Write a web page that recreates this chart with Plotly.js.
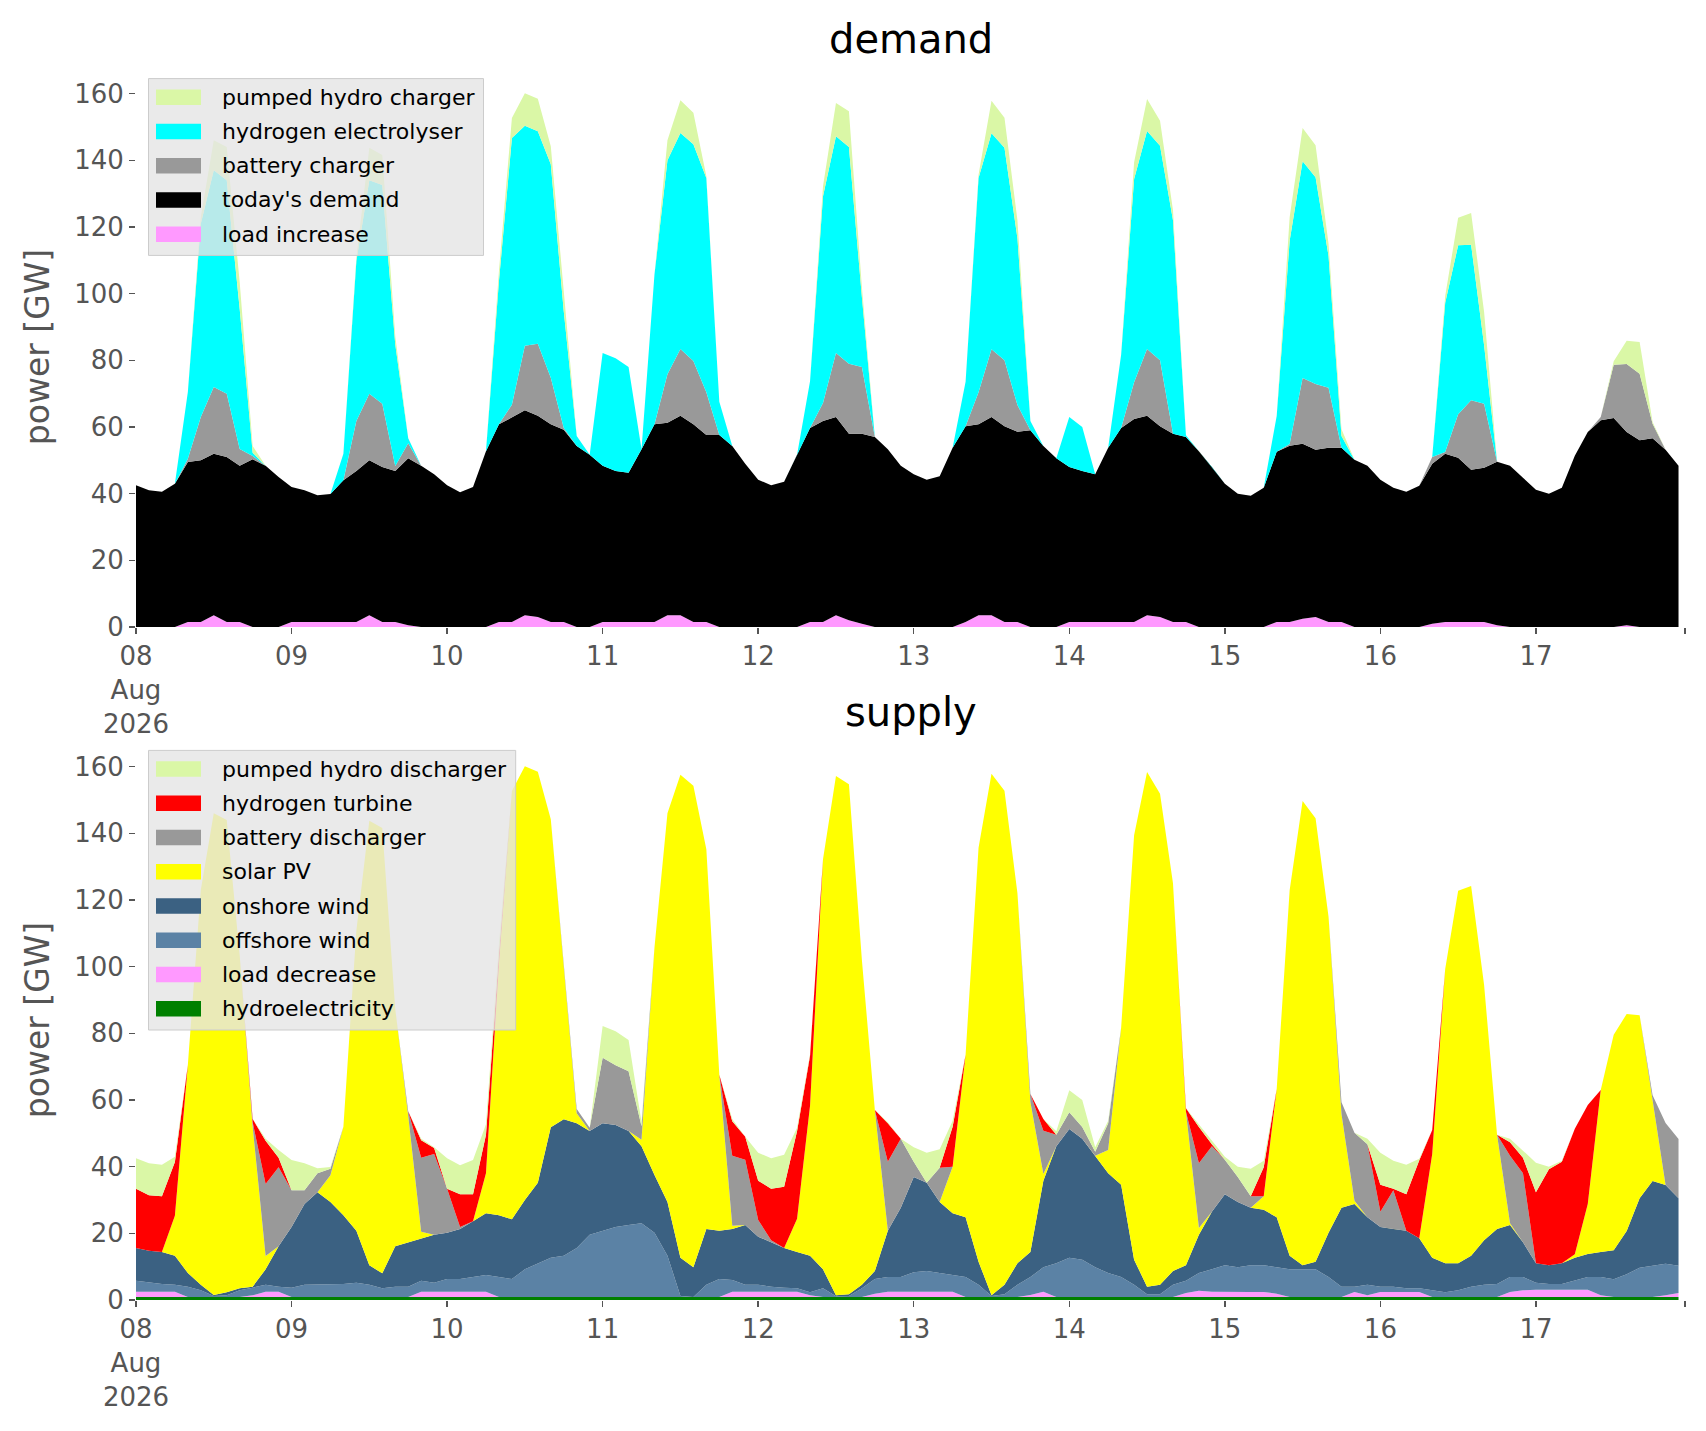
<!DOCTYPE html>
<html>
<head>
<meta charset="utf-8">
<script src="https://cdn.plot.ly/plotly-3.0.1.min.js"></script>
<style>
body{margin:0;background:#fff}
#plot{width:1706px;height:1431px}
</style>
</head>
<body>
<div id="plot"></div>
<script>
// 2-hourly values, 12 per day, 08 Aug .. 17 Aug 2026 (GW)
var startTime = "2026-08-08T00:00:00Z"; var stepHours = 2;

// last entry is the unlabeled tick at the right end of the axis
var dayTicks = ["2026-08-08","2026-08-09","2026-08-10","2026-08-11","2026-08-12","2026-08-13","2026-08-14","2026-08-15","2026-08-16","2026-08-17","2026-08-17 23:00"];
var dayLabels = ["08<br>Aug<br>2026","09","10","11","12","13","14","15","16","17",""];

// ---- demand side ----
var loadIncrease = [
 0,0,0,0,1.5,1.5,3.5,1.5,1.5,0,0,0,
 1.5,1.5,1.5,1.5,1.5,1.5,3.5,1.5,1.5,0.5,0,0,
 0,0,0,0,1.5,1.5,3.5,3,1.5,1.5,0,0,
 1.5,1.5,1.5,1.5,1.5,3.5,3.5,1.5,1.5,0,0,0,
 0,0,0,0,1.5,1.5,3.5,2,1,0,0,0,
 0,0,0,0,1.5,3.5,3.5,1.5,1.5,0,0,0,
 1.5,1.5,1.5,1.5,1.5,1.5,3.5,3,1.5,1.5,0,0,
 0,0,0,0,1.5,1.5,2.5,3,1.5,1.5,0,0,
 0,0,0,0,1,1.5,1.5,1.5,1.5,0.5,0,0,
 0,0,0,0,0,0,0,0.5,0,0,0,0];
var todaysDemand = [
 42.5,41,40.6,43,48,48.5,48.5,49.5,46.9,50.3,48.4,45,
 40.5,39.5,38,38.4,42.5,45.3,46.5,46.5,45.3,50.1,48.4,45.8,
 42.5,40.4,42,52.7,59.3,61.5,61.5,60.4,59.3,57.7,54.3,51.7,
 46.9,45.3,44.8,51.8,59.3,57.8,59.9,59.3,56.1,57.6,54.3,49,
 44.2,42.5,43.6,51.7,58.2,60.3,59.5,56,57,57,53.3,48.4,
 45.8,44.2,45.2,53.8,58.7,57.3,59.5,58.7,57.1,59,54.3,50.6,
 46.5,45.3,44.3,52.3,58.2,60.9,59.9,57.2,56.5,55.5,52.7,48,
 43,40,39.4,41.8,51.1,52.9,52.5,50.2,52.3,52.3,50.2,48.4,
 44.2,41.8,40.6,42.4,48,50.5,49.3,45.7,46.3,49.1,48.4,44.8,
 41.2,40,41.8,51.4,58.5,62,62.7,58,56,56.6,53.2,48.4];
var batteryCharger = [
 0,0,0,0,1,13,20,19,5,1,0,0,
 0,0,0,0,0,15,20,19,1.5,4.5,0,0,
 0,0,0,0,0,3.7,19.4,21.6,14,0.5,0,0,
 0,0,0,0,0,14.5,20,19,12.8,0,0,0,
 0,0,0,0,0,5.4,19.2,21,20,0,0,0,
 0,0,0,0,0,9.6,20.3,19.8,8,0,0,0,
 0,0,0,0,0,11,20,19.8,0,0,0,0,
 0,0,0,0,0,0.5,19.7,19.7,18,0,0,0,
 0,0,0,0,2,0.5,13,20.8,19.2,0,0,0,
 0,0,0,0,0,1,16,20.4,20,4.4,0,0];
var electrolyser = [
 0,0,0,0,20,58,65,64,42,1,0,0,
 0,0,0,0,8,48,64,65.6,36.5,1.5,0,0,
 0,0,0,0,43,80,66,63.7,64,35,3,0,
 33.8,33.8,31.7,0,45,64.2,64.8,65,64.3,10,0,0,
 0,0,0,0,14,62,65,65,21,0,0,0,
 0,0,0,0,13.4,64.3,64.8,63.8,50,2.8,0,0,
 15,13.2,0,0,22,61,65.4,64.4,64,0.5,0,0,
 0,0,0,0,10.7,61,65,62,39.5,3.5,0,0,
 0,0,0,0,0,44.8,50.7,46.7,17.6,0,0,0,
 0,0,0,0,0,0,0,0,0,0,0,0];
var pumpedCharger = [
 0,0,0,0,0,2,9,10,8,2,0,0,
 0,0,0,0,0,1,9.8,9,2.5,0,0,0,
 0,0,0,0,3,6,9.7,9.8,5.4,5.4,0,0,
 0,0,0,0,0,6,9.8,9.5,0.5,0,0,0,
 0,0,0,0,0,3,10,10.7,3,0,0,0,
 0,0,0,0,0,1,9.8,9,5.4,0,0,0,
 0,0,0,0,0,5,9.6,7.5,3,0,0,0,
 0,0,0,0,0,7,10,9.6,3.7,2,0,0,
 0,0,0,0,0,2,8.3,9.5,10,0,0,0,
 0,0,0,0,0,0,1,7,9.5,0.5,0,0];

// ---- supply side ----
var hydro = [
 0.9,0.9,0.9,0.9,0.9,0.9,0.9,0.9,0.9,0.9,0.9,0.9,
 0.9,0.9,0.9,0.9,0.9,0.9,0.9,0.9,0.9,0.9,0.9,0.9,
 0.9,0.9,0.9,0.9,0.9,0.9,0.9,0.9,0.9,0.9,0.9,0.9,
 0.9,0.9,0.9,0.9,0.9,0.9,0.9,0.9,0.9,0.9,0.9,0.9,
 0.9,0.9,0.9,0.9,0.9,0.9,0.9,0.9,0.9,0.9,0.9,0.9,
 0.9,0.9,0.9,0.9,0.9,0.9,0.9,0.9,0.9,0.9,0.9,0.9,
 0.9,0.9,0.9,0.9,0.9,0.9,0.9,0.9,0.9,0.9,0.9,0.9,
 0.9,0.9,0.9,0.9,0.9,0.9,0.9,0.9,0.9,0.9,0.9,0.9,
 0.9,0.9,0.9,0.9,0.9,0.9,0.9,0.9,0.9,0.9,0.9,0.9,
 0.9,0.9,0.9,0.9,0.9,0.9,0.9,0.9,0.9,0.9,0.9,0.9];
var loadDecrease = [
 1.6,1.6,1.6,1.6,0,0,0,0,0,0.5,1.6,1.6,
 0,0,0,0,0,0,0,0,0,0,1.6,1.6,
 1.6,1.6,1.6,1.6,0,0,0,0,0,0,0,0,
 0,0,0,0,0,0,0,0,0,0,1.6,1.6,
 1.6,1.6,1.6,1.6,0.5,0,0,0,0,1,1.6,1.6,
 1.6,1.6,1.6,1.6,0,0,0,0,0,0.6,1.6,0,
 0,0,0,0,0,0,0,0,0,1.2,1.9,1.6,
 1.5,1.5,1.5,1.5,1,0,0,0,0,0,1.5,0.5,
 1.5,1.5,1.5,1.5,0,0,0,0,0,0,1.5,2,
 2.2,2.2,2.2,2.2,2.2,0.5,0,0,0,0,0.5,1.2];
var offshoreWind = [
 3.3,2.7,2.3,2.1,3.1,2.0,0.3,0.5,2.0,2.3,2.1,1.5,
 2.8,3.7,3.7,3.9,3.9,4.3,3.7,2.6,3.1,3.1,3.3,2.7,
 3.8,3.8,4.4,5.0,6.0,5.4,8.3,10.1,11.8,12.4,14.7,18.7,
 19.9,21.0,21.6,22.1,19.3,12.4,0.3,0,3.7,5.4,3.5,2.1,
 2.1,1.5,1.2,1.0,0.9,2.6,0.2,0.3,2.6,4.4,4.4,4.4,
 5.8,6.2,5.6,5.0,6.0,3.7,0.3,0.8,3.7,5.4,7.3,10.1,
 11.8,11.2,8.9,7.2,6.0,3.7,0.8,0.8,3.7,3.7,5.3,6.7,
 8.0,7.4,8.0,8.0,7.9,8.3,8.3,8.3,6.0,3.1,1.6,3.2,
 1.6,1.6,1.1,1.1,2.0,1.4,2.0,3.1,3.7,3.9,4.5,4.0,
 2.1,1.7,1.7,2.7,3.8,5.5,5.3,6.8,8.8,9.4,9.5,8.2];
var onshoreWind = [
 9.8,9.6,9.6,8.7,4.1,1.7,0.3,0.9,0.6,0.3,4.6,12.1,
 18.2,24.2,27.7,24.6,20.6,15.6,5.8,4.5,12.1,13.3,12.7,14.4,
 13.9,15.0,16.7,18.5,18.5,17.9,20.8,24.2,39.1,40.9,37.4,31.1,
 32.2,30.6,28.2,23.1,17.3,16.1,11.5,8.9,16.7,14.5,15.3,17.9,
 14.4,13.3,11.9,10.9,11.0,5.7,0.3,0.5,1.1,2.4,13.9,20.8,
 28.6,26.5,21.3,18.5,17.9,6.9,0.2,2.9,6.4,7.5,26.0,35.1,
 38.6,36.3,33.5,29.9,27.7,7.5,2.3,2.9,4.1,4.6,11.5,17.3,
 21.3,19.6,17.3,16.7,15.0,4.1,1.2,2.3,13.3,23.7,24.8,20.2,
 17.9,17.3,17.3,15.0,9.8,8.7,8.1,9.3,13.3,16.5,15.6,10.4,
 5.8,5.6,6.2,6.9,6.9,7.5,8.7,13.0,20.8,25.4,23.6,20.2];
var solarPV = [
 0,0,0,12,62.4,118.4,144.5,141.7,99.9,48,4,0,
 0,0,0,8,26.6,90,133.4,133.6,71.2,38,2,0,
 0,0,0,12,75.4,128.5,130.1,123.3,92.4,45.9,3,0,
 0,0,0,2,68.3,116.6,144.9,144.5,113.9,46.8,1,0,
 0,0,0,10,45,123,155.8,153,97.4,48.3,0,0,
 0,0,0,14,48.8,124.2,156.5,148.2,111,45,2,0,
 0,0,0,7,47.1,127.3,154.4,147.3,116.3,46.1,2,0,
 0,0,0,4,38.5,109.6,139.3,133,94.8,28,1,0,
 0,0,0,0,31.1,88.3,111.8,110.9,76.7,28.3,0.5,0,
 0,0,0,1,15,48.6,64.7,65.1,54.9,24.2,0,0];
var batteryDischarger = [
 0,0,0,0,0,0,0,0,0,1.3,21.6,23.7,
 11,4.1,5.7,2,0,0,0,0,0,1.3,22.2,24.2,
 13.2,0.6,0,0,0,0,0,0,0,0,1.3,1,
 19.7,17.9,17.9,4,0,0,0,0,0,0,21,19.6,
 5,0.6,0,0,0,0,0,0,0,0,20.7,20.7,
 4.6,0,10.3,0,0,0,0,0,0,2.4,13,3.5,
 5,3.5,1.2,8,0,0,0,0,0,0,19.4,19.6,
 10.4,7.5,3.4,0,0,0,0,0,0,3.6,20.4,21.9,
 4.6,11.6,0,0,0,0,0,0,0,0,20.3,20.7,
 0,0,0,0,0,0,0,0,0,1.5,18.6,17.8];
var hydrogenTurbine = [
 17.8,16.6,16.7,16.1,0,0,0,0,0,1,13,2.9,
 0,0,0,0,0,0,0,0,0,0,5.2,1.8,
 0,9.8,8.1,11.6,3,0,0,0,0,0,0,0,
 0,0,0,0,0,0,0,0,0,0,10.3,6.9,
 11.8,15.5,18.4,26.3,15,0,0,0,0,0,11.5,0,
 0,0,0,12,0,0,0,0,0,0,3.5,0,
 0,0,0,0,0,0,0,0,0,1,10.9,0.6,
 0,0,0,8.7,0,0,0,0,0,0,0,0,
 8.1,0.5,10.9,23.4,7.2,0,0,0,0,0,4,4.7,
 21.3,28.8,30.5,37.7,29.7,0,0,0,0,0,0,0];
var pumpedDischarger = [
 9.1,9.6,9.5,1.6,0,0,0,0,0,0,0.6,2.3,
 9.1,8.1,1.5,0.5,0,0,0,0,0,0,0.5,0.2,
 9.1,8.7,10.3,3.1,3,0,0,0,0,0,0,0,
 9.5,10.2,9.4,1.2,0,0,0,0,0,0,0.7,0,
 8.4,9.1,9.6,1,0.4,0,0,0,0,0,0.3,0,
 4.3,9,5.5,1.8,0,0,0,0,0,0,0,1,
 6.6,8.1,1.3,0.8,0,0,0,0,0,0,0.8,1.3,
 0.9,3.1,8.3,2,0,0,0,0,0,0,0,1.7,
 9.6,8.4,8.9,0.5,0,0,0,0,0,0,1.1,2.1,
 8.9,0.8,0.3,0,0,0,0,0,0,0,0,0];

// time stamps for every point
var times = [];
var t0 = new Date(startTime).getTime();
for (var i = 0; i < todaysDemand.length; i++) {
  times.push(new Date(t0 + i*stepHours*3600e3).toISOString().slice(0,16).replace("T"," "));
}

function area(name, y, color, group, xa, ya){
  return {x: times, y: y, name: name, type: "scatter", mode: "lines", stackgroup: group,
    line: {width: 0, color: color}, fillcolor: color, xaxis: xa, yaxis: ya,
    showlegend: false, hoverinfo: "x+y+name"};
}

var demandTraces = [
  area("load increase", loadIncrease, "#FF99FF", "d", "x", "y"),
  area("today's demand", todaysDemand, "#000000", "d", "x", "y"),
  area("battery charger", batteryCharger, "#999999", "d", "x", "y"),
  area("hydrogen electrolyser", electrolyser, "#00FFFF", "d", "x", "y"),
  area("pumped hydro charger", pumpedCharger, "#DAF7A6", "d", "x", "y")
];
var supplyTraces = [
  area("hydroelectricity", hydro, "#008000", "s", "x2", "y2"),
  area("load decrease", loadDecrease, "#FF99FF", "s", "x2", "y2"),
  area("offshore wind", offshoreWind, "#5B82A5", "s", "x2", "y2"),
  area("onshore wind", onshoreWind, "#3B6182", "s", "x2", "y2"),
  area("solar PV", solarPV, "#FFFF00", "s", "x2", "y2"),
  area("battery discharger", batteryDischarger, "#999999", "s", "x2", "y2"),
  area("hydrogen turbine", hydrogenTurbine, "#FF0000", "s", "x2", "y2"),
  area("pumped hydro discharger", pumpedDischarger, "#DAF7A6", "s", "x2", "y2")
];
var data = demandTraces.concat(supplyTraces);

// page geometry (px) used for the hand drawn legend boxes
var W = 1706, H = 1431, ml = 136, mr = 21, mt = 67, mb = 131;
function px(x){ return (x - ml) / (W - ml - mr); }
function py(y){ return (H - mb - y) / (H - mt - mb); }

var fnt = "DejaVu Sans, sans-serif";
var shapes = [], annotations = [];

// matplotlib style legend: box, wide colour patch, label; top entry = top of the stack
function addLegend(traces, boxTop, boxBottom, boxRight){
  shapes.push({type: "rect", xref: "paper", yref: "paper", layer: "above",
    x0: px(148.5), x1: px(boxRight), y0: py(boxBottom), y1: py(boxTop),
    fillcolor: "rgba(229,229,229,0.8)", line: {color: "#CCCCCC", width: 1}});
  var rows = traces.slice().reverse();
  for (var k = 0; k < rows.length; k++) {
    var yc = boxTop + 18.6 + 34.25*k;
    shapes.push({type: "rect", xref: "paper", yref: "paper", layer: "above",
      x0: px(156), x1: px(201), y0: py(yc + 7.8), y1: py(yc - 7.8),
      fillcolor: rows[k].fillcolor, line: {width: 0}});
    annotations.push({text: rows[k].name, xref: "paper", yref: "paper", x: px(219.5), y: py(yc),
      xanchor: "left", yanchor: "middle", showarrow: false,
      font: {family: fnt, size: 22, color: "#000000"}});
  }
}
addLegend(demandTraces, 78.6, 255.4, 483.5);
addLegend(supplyTraces, 750.4, 1030, 515.7);

annotations.push({text: "demand", xref: "paper", yref: "paper", x: 0.5, y: 1, xanchor: "center", yanchor: "bottom",
  yshift: 3, showarrow: false, font: {family: fnt, size: 40, color: "#000000"}});
annotations.push({text: "supply", xref: "paper", yref: "paper", x: 0.5, y: 0.4542, xanchor: "center", yanchor: "bottom",
  yshift: 3, showarrow: false, font: {family: fnt, size: 40, color: "#000000"}});

function xax(anchor){
  return {type: "date", anchor: anchor, range: ["2026-08-08 00:00","2026-08-17 23:00"],
    tickmode: "array", tickvals: dayTicks, ticktext: dayLabels,
    showgrid: false, zeroline: false, showline: false,
    ticks: "outside", ticklen: 6, tickwidth: 1.5, tickcolor: "#555555",
    tickfont: {family: fnt, size: 26, color: "#555555"}};
}
function yax(anchor, dom){
  return {anchor: anchor, domain: dom, range: [0, 168], dtick: 20, tick0: 0,
    showgrid: false, zeroline: false, showline: false,
    ticks: "outside", ticklen: 6, tickwidth: 1.5, tickcolor: "#555555",
    tickfont: {family: fnt, size: 26, color: "#555555"},
    title: {text: "power [GW]", font: {family: fnt, size: 33, color: "#555555"}, standoff: 14}};
}

var layout = {
  width: W, height: H,
  margin: {l: ml, r: mr, t: mt, b: mb},
  paper_bgcolor: "#ffffff", plot_bgcolor: "#ffffff",
  font: {family: fnt},
  showlegend: false,
  xaxis: xax("y"), yaxis: yax("x", [0.5458, 1]),
  xaxis2: xax("y2"), yaxis2: yax("x2", [0, 0.4542]),
  shapes: shapes,
  annotations: annotations
};

Plotly.newPlot("plot", data, layout, {displayModeBar: false, staticPlot: true});
</script>
</body>
</html>
